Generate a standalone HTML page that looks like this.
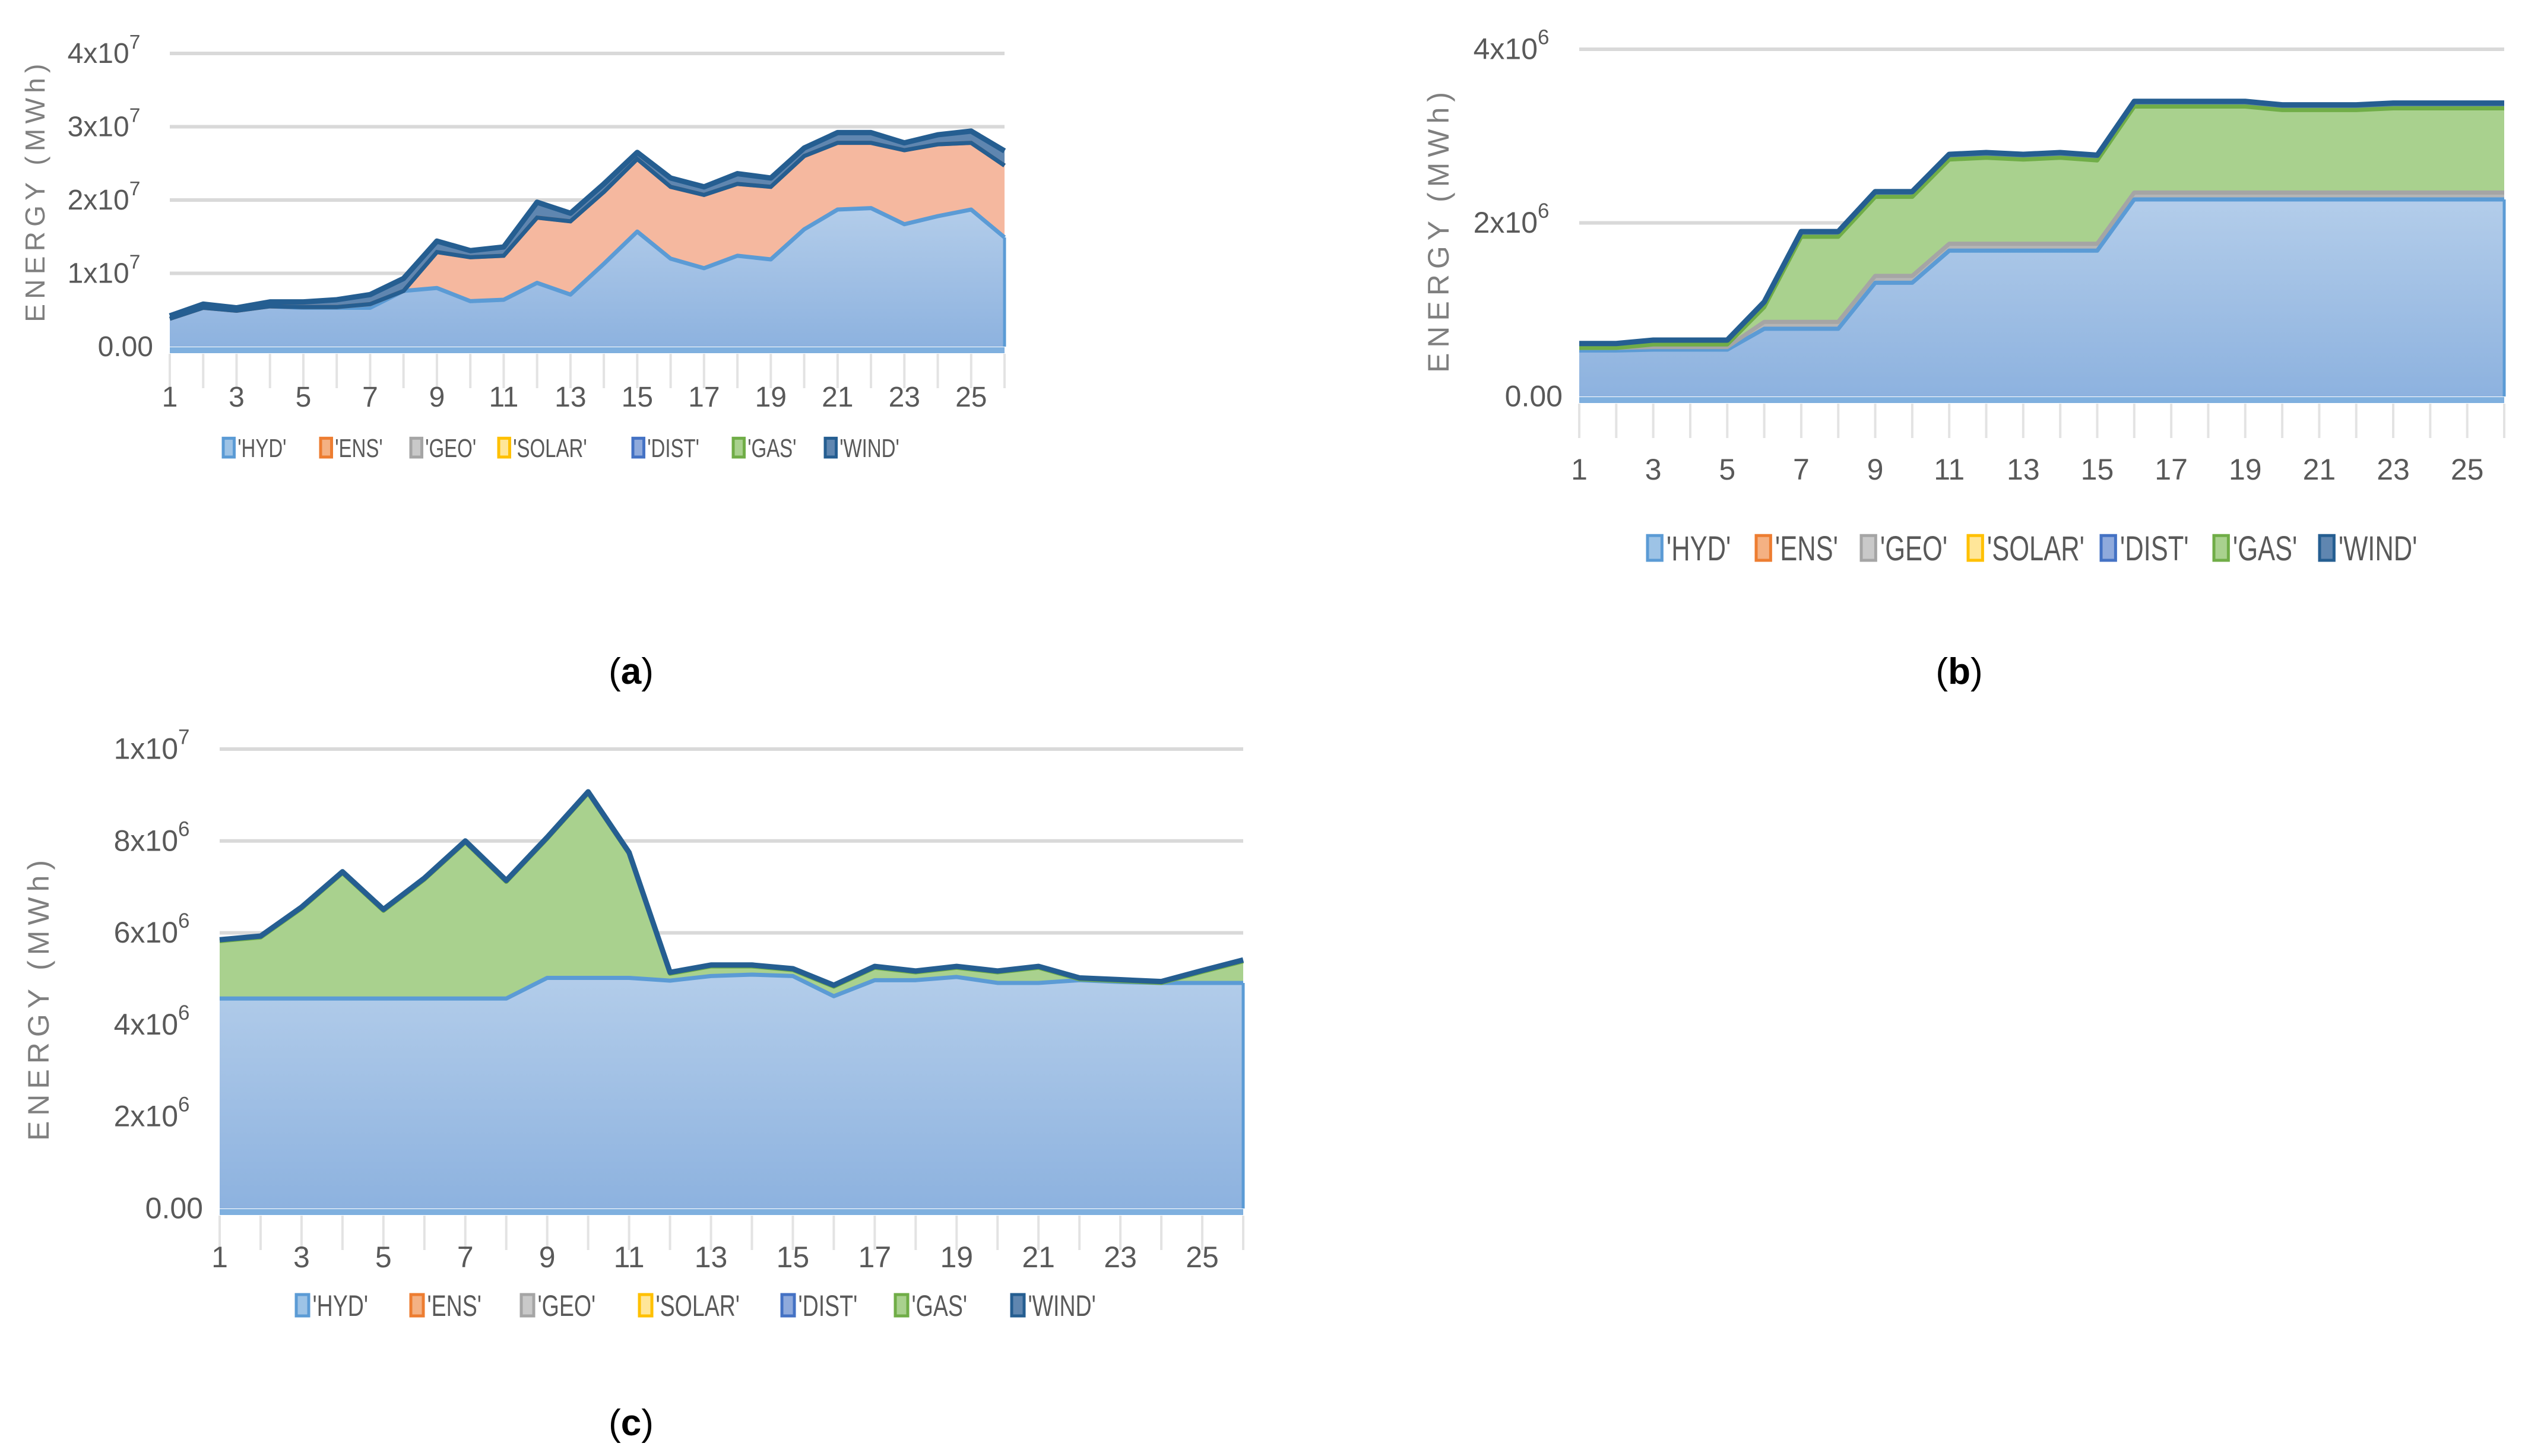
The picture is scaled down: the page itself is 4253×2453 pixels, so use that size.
<!DOCTYPE html>
<html><head><meta charset="utf-8">
<style>
html,body{margin:0;padding:0;background:#fff;}
svg{display:block;}
text{font-family:"Liberation Sans",sans-serif;}
</style></head>
<body>
<svg id="fig" width="4253" height="2453" viewBox="0 0 4253 2453" xmlns="http://www.w3.org/2000/svg">
<defs>
<linearGradient id="hydGrad" x1="0" y1="0" x2="0" y2="1">
<stop offset="0" stop-color="#b3cdea"/><stop offset="1" stop-color="#8db2df"/>
</linearGradient>
</defs>
<text x="1063" y="1152" font-family="Liberation Serif" font-size="62" text-anchor="middle">(<tspan font-weight="bold">a</tspan>)</text>
<text x="3300" y="1152" font-family="Liberation Serif" font-size="62" text-anchor="middle">(<tspan font-weight="bold">b</tspan>)</text>
<text x="1063" y="2418" font-family="Liberation Serif" font-size="62" text-anchor="middle">(<tspan font-weight="bold">c</tspan>)</text>
</svg>
<script>
// ---- Panel A data (units of 1e7 MWh) ----
const catsA = [1,2,3,4,5,6,7,8,9,10,11,12,13,14,15,16,17,18,19,20,21,22,23,24,25,26];
const hydA = [0.38,0.53,0.49,0.55,0.53,0.53,0.53,0.76,0.80,0.62,0.64,0.87,0.71,1.13,1.57,1.20,1.07,1.24,1.19,1.60,1.87,1.89,1.67,1.78,1.87,1.49];
const ensA = [0,0,0,0,0.01,0.01,0.05,0,0.49,0.60,0.60,0.89,1.00,0.98,0.99,0.98,1.00,0.98,0.99,1.00,0.91,0.89,1.01,0.98,0.91,0.98];
const windA = [0.04,0.05,0.04,0.06,0.07,0.10,0.13,0.17,0.15,0.09,0.12,0.21,0.11,0.11,0.09,0.12,0.11,0.14,0.12,0.11,0.14,0.14,0.10,0.13,0.16,0.20];
const ticksA = ["0.00","1x10|7","2x10|7","3x10|7","4x10|7"];
// ---- Panel B data (units of 1e6 MWh) ----
const hydB = [0.53,0.53,0.54,0.54,0.54,0.78,0.78,0.78,1.31,1.31,1.68,1.68,1.68,1.68,1.68,2.27,2.27,2.27,2.27,2.27,2.27,2.27,2.27,2.27,2.27,2.27];
const geoB = [0.03,0.03,0.03,0.03,0.03,0.08,0.08,0.08,0.08,0.08,0.08,0.08,0.08,0.08,0.08,0.08,0.08,0.08,0.08,0.08,0.08,0.08,0.08,0.08,0.08,0.08];
const gasB = [0,0,0.03,0.03,0.03,0.17,0.98,0.98,0.91,0.91,0.97,0.99,0.97,0.99,0.96,0.99,0.99,0.99,0.99,0.95,0.95,0.95,0.97,0.97,0.97,0.97];
const windB = [0.05,0.05,0.05,0.05,0.05,0.06,0.06,0.06,0.06,0.06,0.06,0.06,0.06,0.06,0.06,0.06,0.06,0.06,0.06,0.06,0.06,0.06,0.06,0.06,0.06,0.06];
const ticksB = ["0.00","2x10|6","4x10|6"];
// ---- Panel C data (units of 1e6 MWh) ----
const hydC = [4.57,4.57,4.57,4.57,4.57,4.57,4.57,4.57,5.02,5.02,5.02,4.96,5.06,5.09,5.06,4.62,4.97,4.97,5.04,4.91,4.91,4.97,4.93,4.91,4.91,4.91];
const gasC = [1.25,1.33,1.96,2.73,1.91,2.59,3.40,2.54,3.03,4.02,2.70,0.15,0.21,0.18,0.13,0.21,0.27,0.17,0.20,0.23,0.33,0.02,0.02,0.0,0.24,0.47];
const windC = [0.03,0.03,0.03,0.03,0.03,0.03,0.03,0.03,0.03,0.03,0.03,0.03,0.03,0.03,0.03,0.03,0.03,0.03,0.03,0.03,0.03,0.03,0.03,0.03,0.03,0.03];
const ticksC = ["0.00","2x10|6","4x10|6","6x10|6","8x10|6","1x10|7"];
const legendNames = ["'HYD'","'ENS'","'GEO'","'SOLAR'","'DIST'","'GAS'","'WIND'"];

const NS="http://www.w3.org/2000/svg";
const svg=document.getElementById('fig');
function mk(tag,attrs,parent){const e=document.createElementNS(NS,tag);for(const k in attrs)e.setAttribute(k,attrs[k]);(parent||svg).appendChild(e);return e;}

const STY={
 hyd:{fill:"url(#hydGrad)",stroke:"#5b9bd5"},
 ens:{fill:"#f5b89f",stroke:"#ed7d31"},
 geo:{fill:"#b5b5b5",stroke:"#a5a5a5"},
 gas:{fill:"#a9d18e",stroke:"#70ad47"},
 wind:{fill:"#5f86b0",stroke:"#255e91"}
};
const legSty=[["#9dc3e6","#5b9bd5"],["#f4b183","#ed7d31"],["#c9c9c9","#a5a5a5"],["#ffe699","#ffc000"],["#8faadc","#4472c4"],["#a9d18e","#70ad47"],["#5f86b0","#255e91"]];

function condense(t,f){try{const w=t.getComputedTextLength();t.setAttribute('textLength',w*f);t.setAttribute('lengthAdjust','spacingAndGlyphs');}catch(e){}}

function drawPanel(p){
 const g=mk('g',{});
 
 
 const n=catsA.length;
 const xs=i=>p.x0+(p.x1-p.x0)*i/(n-1);
 const ys=v=>p.y0-(p.y0-p.yTop)*v/p.max;
 for(let t=0;t<p.ticks.length;t++){
  const v=p.max*t/(p.ticks.length-1), y=ys(v);
  if(t>0){const l=mk('line',{x1:p.x0,x2:p.x1,y1:y,y2:y,stroke:"#d9d9d9","stroke-width":6},g);
   }
  const parts=p.ticks[t].split('|');
  const tx=mk('text',{x:p.x0-28,y:y+p.fs*0.33,"font-size":p.fs,fill:"#595959","text-anchor":"end"},g);
  
  if(parts.length>1){tx.setAttribute('x',p.x0-28-p.fs*0.45);tx.textContent=parts[0];
   const s=mk('tspan',{dy:-p.fs*0.5,"font-size":p.fs*0.7},tx);s.textContent=parts[1];}
  else tx.textContent=parts[0];
 }
 let base=new Array(n).fill(0);
 const tops=[];
 p.layers.forEach(L=>{
  const top=base.map((b,i)=>b+L.vals[i]);
  let d="M"+top.map((v,i)=>xs(i)+","+ys(v)).join(" L");
  for(let i=n-1;i>=0;i--)d+=" L"+xs(i)+","+ys(base[i]);
  d+=" Z";
  const a=mk('path',{d:d,fill:STY[L.k].fill,stroke:"none"},g);
  
  tops.push({k:L.k,top:top,base:base.slice()});
  base=top;
 });
 tops.forEach(T=>{
  const ln=mk('polyline',{points:T.top.map((v,i)=>xs(i)+","+ys(v)).join(" "),fill:"none",stroke:STY[T.k].stroke,"stroke-width":T.k=='wind'?9:7,"stroke-linejoin":"round"},g);
  
  if(T.k=='wind'&&p.windBottom){const lb=mk('polyline',{points:T.base.map((v,i)=>xs(i)+","+ys(v)).join(" "),fill:"none",stroke:"#255e91","stroke-width":7},g);
   }
 });
 const rt=mk('line',{x1:p.x1,x2:p.x1,y1:p.y0,y2:ys(tops[0].top[n-1]),stroke:"#5b9bd5","stroke-width":5},g);
 
 const bl=mk('line',{x1:p.x0,x2:p.x1,y1:p.y0+6,y2:p.y0+6,stroke:"#7fb0df","stroke-width":10},g);
 
 for(let i=0;i<n;i++){
  const tk=mk('line',{x1:xs(i),x2:xs(i),y1:p.y0+12,y2:p.y0+70,stroke:"#e3e3e3","stroke-width":4},g);
  
  if(i%2==0){const t=mk('text',{x:xs(i),y:p.xl,"font-size":p.fs,fill:"#595959","text-anchor":"middle"},g);
   t.textContent=catsA[i];}
 }
 const yt=mk('text',{x:0,y:0,"font-size":p.tfs,fill:"#7f7f7f","text-anchor":"middle","letter-spacing":p.tfs*0.18,transform:`translate(${p.tx},${p.ty}) rotate(-90)`},g);
 yt.textContent="ENERGY (MWh)";
 legendNames.forEach((nm,i)=>{
  const lx=p.leg[i];
  const r=mk('rect',{x:lx,y:p.ly-p.lfs*0.72,width:p.lfs*0.42,height:p.lfs*0.72,fill:legSty[i][0],stroke:legSty[i][1],"stroke-width":5},g);
  
  const t=mk('text',{x:lx+p.lfs*0.55,y:p.ly,"font-size":p.lfs,fill:"#595959"},g);
  t.textContent=nm;
  condense(t,0.75);
 });
}
drawPanel({name:'chart-a',x0:286,x1:1692,y0:584,yTop:90,max:4,ticks:ticksA,fs:48,xl:685,
 layers:[{k:'hyd',vals:hydA},{k:'ens',vals:ensA},{k:'wind',vals:windA}],windBottom:true,
 tx:75,ty:321,tfs:46,ly:770,lfs:44,leg:[376,540,692,840,1066,1235,1390]});
drawPanel({name:'chart-b',x0:2660,x1:4218,y0:668,yTop:83,max:4,ticks:ticksB,fs:50,xl:808,
 layers:[{k:'hyd',vals:hydB},{k:'geo',vals:geoB},{k:'gas',vals:gasB},{k:'wind',vals:windB}],
 tx:2440,ty:387,tfs:50,ly:944,lfs:58,leg:[2775,2958,3135,3315,3539,3729,3907]});
drawPanel({name:'chart-c',x0:370,x1:2094,y0:2036,yTop:1262,max:10,ticks:ticksC,fs:50,xl:2135,
 layers:[{k:'hyd',vals:hydC},{k:'gas',vals:gasC},{k:'wind',vals:windC}],
 tx:82,ty:1681,tfs:50,ly:2217,lfs:50,leg:[499,692,878,1077,1317,1508,1704]});
</script>
</body></html>
